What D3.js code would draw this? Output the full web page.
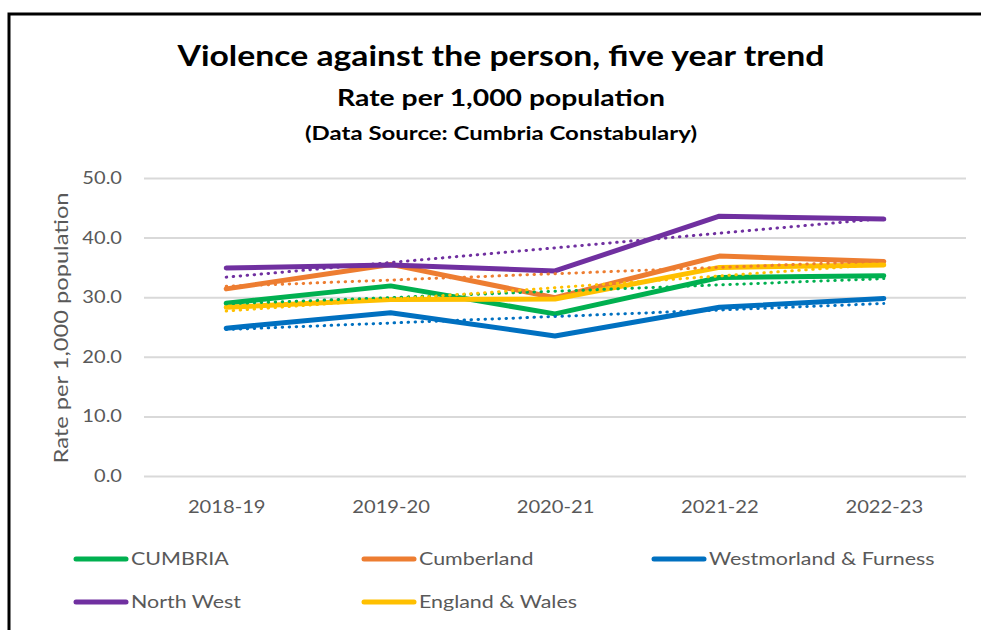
<!DOCTYPE html>
<html>
<head>
<meta charset="utf-8">
<script src="https://cdn.jsdelivr.net/npm/d3@7"></script>
<style>
  body { margin: 0; background: #fff; }
  svg { display: block; }
  text { font-family: Lato, "Open Sans", sans-serif; }
</style>
</head>
<body>
<div id="chart"></div>
<script>
const width = 981;
const height = 630;

const years = ['2018-19', '2019-20', '2020-21', '2021-22', '2022-23'];
const cumbria = [29.0, 31.9, 27.2, 33.3, 33.6];
const cumberland = [31.4, 35.5, 29.9, 36.9, 36.0];
const westmorland = [24.8, 27.4, 23.5, 28.3, 29.8];
const northWest = [34.9, 35.4, 34.4, 43.6, 43.1];
const englandWales = [28.3, 29.6, 29.7, 35.0, 35.4];
const yTicks = [0, 10, 20, 30, 40, 50];

const series = [
  { name: 'CUMBRIA', values: cumbria, color: '#00B050' },
  { name: 'Cumberland', values: cumberland, color: '#ED7D31' },
  { name: 'Westmorland & Furness', values: westmorland, color: '#0070C0' },
  { name: 'North West', values: northWest, color: '#7030A0' },
  { name: 'England & Wales', values: englandWales, color: '#FFC000' }
];

const margin = { left: 144, right: 15, top: 178, bottom: 154 };

const xScale = d3.scalePoint()
  .domain(years)
  .range([margin.left, width - margin.right])
  .padding(0.5);

const yScale = d3.scaleLinear()
  .domain([0, 50])
  .range([height - margin.bottom, margin.top]);

const svg = d3.select('#chart').append('svg')
  .attr('width', width)
  .attr('height', height);

// the source picture is a bit wider than tall, so text is stretched to match
function stretch(sel, k) {
  sel.each(function () {
    const w = this.getComputedTextLength();
    d3.select(this)
      .attr('textLength', w * k)
      .attr('lengthAdjust', 'spacingAndGlyphs');
  });
}

// frame
svg.append('path')
  .attr('d', `M9,${height} V14 H${width}`)
  .attr('fill', 'none')
  .attr('stroke', '#000')
  .attr('stroke-width', 3);

// titles
svg.append('text')
  .attr('x', 501).attr('y', 66)
  .attr('text-anchor', 'middle')
  .attr('textLength', 647).attr('lengthAdjust', 'spacingAndGlyphs')
  .style('font-size', '28px').style('font-weight', 'bold')
  .text('Violence against the person, five year trend');

svg.append('text')
  .attr('x', 501).attr('y', 106)
  .attr('text-anchor', 'middle')
  .attr('textLength', 328).attr('lengthAdjust', 'spacingAndGlyphs')
  .style('font-size', '22px').style('font-weight', 'bold')
  .text('Rate per 1,000 population');

svg.append('text')
  .attr('x', 501).attr('y', 140)
  .attr('text-anchor', 'middle')
  .attr('textLength', 392).attr('lengthAdjust', 'spacingAndGlyphs')
  .style('font-size', '18px').style('font-weight', 'bold')
  .text('(Data Source: Cumbria Constabulary)');

// gridlines
const yAxis = d3.axisLeft(yScale)
  .tickValues(yTicks)
  .tickFormat(d3.format('.1f'))
  .tickSize(-(966 - margin.left))
  .tickPadding(22);

svg.append('g')
  .attr('class', 'y-axis')
  .attr('transform', `translate(${margin.left},0)`)
  .call(yAxis)
  .call(g => g.select('.domain').remove())
  .call(g => g.selectAll('.tick line').attr('stroke', '#D9D9D9').attr('stroke-width', 2))
  .call(g => g.selectAll('.tick text')
    .attr('fill', '#595959')
    .style('font-size', '17px')
    .style('font-family', 'Lato, sans-serif')
    .call(stretch, 1.18));

const xAxis = d3.axisBottom(xScale).tickSize(0).tickPadding(24);

svg.append('g')
  .attr('class', 'x-axis')
  .attr('transform', `translate(0,${yScale(0)})`)
  .call(xAxis)
  .call(g => g.select('.domain').remove())
  .call(g => g.selectAll('.tick text')
    .attr('fill', '#595959')
    .style('font-size', '18px')
    .style('font-family', 'Lato, sans-serif')
    .call(stretch, 1.12));

// y axis title
svg.append('text')
  .attr('transform', `translate(68,${(yScale(0) + yScale(50)) / 2 + 1}) rotate(-90)`)
  .attr('text-anchor', 'middle')
  .attr('fill', '#595959')
  .attr('textLength', 271).attr('lengthAdjust', 'spacingAndGlyphs')
  .style('font-size', '19px')
  .text('Rate per 1,000 population');

const line = d3.line()
  .x((d, i) => xScale(years[i]))
  .y(d => yScale(d));

// linear trend as Excel draws it
function trend(values) {
  const mx = d3.mean(values, (d, i) => i);
  const my = d3.mean(values);
  const slope = d3.sum(values, (d, i) => (i - mx) * (d - my)) / d3.sum(values, (d, i) => (i - mx) * (i - mx));
  return values.map((d, i) => my + slope * (i - mx));
}

const plot = svg.append('g');

series.forEach(s => {
  plot.append('path')
    .attr('d', line(s.values))
    .attr('fill', 'none')
    .attr('stroke', s.color)
    .attr('stroke-width', 5)
    .attr('stroke-linejoin', 'round')
    .attr('stroke-linecap', 'round');
});

series.forEach(s => {
  plot.append('path')
    .attr('d', line(trend(s.values)))
    .attr('fill', 'none')
    .attr('stroke', s.color)
    .attr('stroke-width', 3)
    .attr('stroke-dasharray', '0.5 6.5')
    .attr('stroke-linecap', 'round');
});

// legend
const legendPos = [
  [74, 559], [362, 559], [652, 559],
  [74, 602], [362, 602]
];

const legend = svg.append('g')
  .selectAll('g')
  .data(series)
  .enter()
  .append('g')
  .attr('transform', (d, i) => `translate(${legendPos[i][0]},${legendPos[i][1]})`);

legend.append('line')
  .attr('x1', 2).attr('x2', 52)
  .attr('stroke', d => d.color)
  .attr('stroke-width', 5)
  .attr('stroke-linecap', 'round');

legend.append('text')
  .attr('x', 57)
  .attr('y', 6)
  .attr('fill', '#595959')
  .style('font-size', '18px')
  .text(d => d.name)
  .call(stretch, 1.19);
</script>
</body>
</html>
